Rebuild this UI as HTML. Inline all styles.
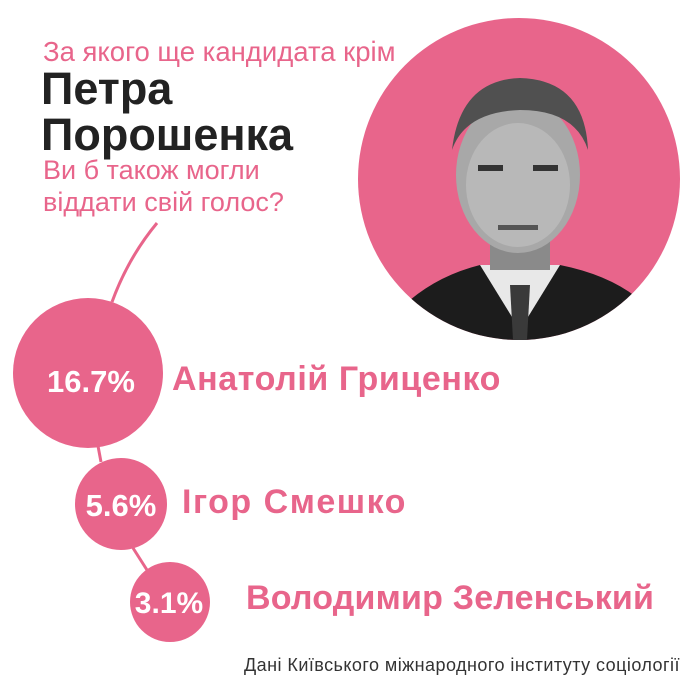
<!DOCTYPE html><html><head><meta charset="utf-8"><style>
body{margin:0;width:690px;height:690px;background:#fff;position:relative;overflow:hidden;font-family:"Liberation Sans",sans-serif}
.t{position:absolute;white-space:nowrap}
</style></head><body>
<svg width="690" height="690" style="position:absolute;left:0;top:0">
<defs><clipPath id="c"><circle cx="519" cy="179" r="161"/></clipPath></defs>
<circle cx="519" cy="179" r="161" fill="#e8658b"/>
<g clip-path="url(#c)">
<path d="M400 340 L410 300 Q440 275 480 265 L560 265 Q610 275 640 300 L650 340Z" fill="#1c1c1c"/>
<path d="M480 265 L520 330 L560 265Z" fill="#e8e8e8"/>
<path d="M510 285 L530 285 L527 340 L513 340Z" fill="#3a3a3a"/>
<rect x="490" y="220" width="60" height="50" fill="#8a8a8a"/>
<ellipse cx="518" cy="175" rx="62" ry="78" fill="#a8a8a8"/>
<ellipse cx="518" cy="185" rx="52" ry="62" fill="#b8b8b8"/>
<path d="M452 150 Q460 80 520 78 Q585 80 588 150 Q575 110 520 110 Q465 112 452 150Z" fill="#505050"/>
<rect x="478" y="165" width="25" height="6" fill="#333"/><rect x="533" y="165" width="25" height="6" fill="#333"/>
<rect x="498" y="225" width="40" height="5" fill="#555"/>
</g>
<g fill="none" stroke="#e8658b" stroke-width="3">
<path d="M157 223 Q128 258 112 302"/>
<path d="M98 446 L101 462"/>
<path d="M133 548 L147 570"/>
</g>
<circle cx="88" cy="373" r="75" fill="#e8658b"/>
<circle cx="121" cy="504" r="46" fill="#e8658b"/>
<circle cx="170" cy="602" r="40" fill="#e8658b"/>
<g fill="#fff" font-family="Liberation Sans" font-weight="bold" text-anchor="middle">
<text x="91" y="392" font-size="31">16.7%</text>
<text x="121" y="516" font-size="31">5.6%</text>
<text x="169" y="613" font-size="30">3.1%</text>
</g>
</svg>
<div class="t" style="left:43px;top:36px;font-size:27.5px;color:#e8658b">За якого ще кандидата крім</div>
<div class="t" style="left:41px;top:66px;font-size:45px;font-weight:bold;color:#222;line-height:46px">Петра<br>Порошенка</div>
<div class="t" style="left:43px;top:154px;font-size:27px;color:#e8658b;line-height:32px">Ви б також могли<br>віддати свій голос?</div>
<div class="t" style="left:172px;top:360px;font-size:34px;font-weight:bold;color:#e8658b;letter-spacing:0.6px">Анатолій Гриценко</div>
<div class="t" style="left:182px;top:483px;font-size:34px;font-weight:bold;color:#e8658b;letter-spacing:1.5px">Ігор Смешко</div>
<div class="t" style="left:246px;top:579px;font-size:34px;font-weight:bold;color:#e8658b;letter-spacing:0.2px">Володимир Зеленський</div>
<div class="t" style="left:244px;top:655px;font-size:18px;color:#333;letter-spacing:0.45px">Дані Київського міжнародного інституту соціології</div>
</body></html>
